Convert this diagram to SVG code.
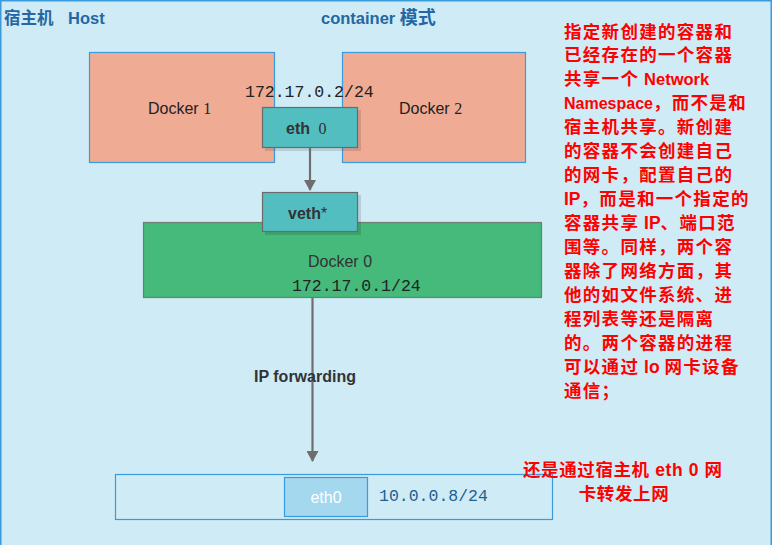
<svg xmlns="http://www.w3.org/2000/svg" width="772" height="545" viewBox="0 0 772 545">
<style>
.sans{font-family:"Liberation Sans",Arial,sans-serif}
.mono{font-family:"Liberation Mono","Courier New",monospace}
.cjk{font-family:"Liberation Sans","Noto Sans CJK SC",sans-serif}
.title{font-size:16.5px;font-weight:bold;fill:#2467a3}
.note{font-size:17.5px;font-weight:bold;fill:#ff0000}
.cj{letter-spacing:1.3px}
.lat{font-size:16.5px}
.dock{fill:#f0ab94;stroke:#3a9bdc;stroke-width:1.2}
.eth{fill:#52bec0;stroke:#6b6b6b;stroke-width:1.2}
.conn{stroke:#6e6e6e;stroke-width:2.2;fill:none}
</style>
<defs>
<marker id="arr" markerWidth="12" markerHeight="12" refX="10" refY="6" orient="auto" markerUnits="userSpaceOnUse">
<path d="M0,0 L11,6 L0,12 Z" fill="#6e6e6e"/>
</marker>
</defs>
<rect x="0" y="0" width="772" height="545" fill="#cfebf6"/>
<path d="M0.75,545 V0.75 H771.25 V545" fill="none" stroke="#3a9bdc" stroke-width="1.5"/>

<g id="title">
<text x="4" y="24" class="cjk title" font-size="17.5" font-weight="normal">宿主机</text>
<text x="68" y="24" class="sans title">Host</text>
<text x="321" y="24" class="cjk title">container <tspan font-size="18">模式</tspan></text>
</g>

<g id="docker1">
<rect x="89.5" y="52.5" width="185" height="110" class="dock"/>
<text x="148" y="114" class="sans" font-size="16" fill="#222">Docker <tspan font-family="Liberation Serif,serif">1</tspan></text>
</g>
<g id="docker2">
<rect x="342.5" y="52.5" width="183" height="110" class="dock"/>
<text x="399" y="114" class="sans" font-size="16" fill="#222">Docker <tspan font-family="Liberation Serif,serif">2</tspan></text>
</g>

<text x="245" y="97" class="mono" font-size="16.5" fill="#222">172.17.0.2/24</text>

<g id="eth0-top">
<rect x="265" y="110" width="96" height="41" fill="#000" opacity="0.12"/>
<rect x="262.5" y="107.5" width="95" height="40" class="eth"/>
<text x="286" y="134" class="sans" font-size="16" font-weight="bold" fill="#333">eth <tspan font-family="Liberation Serif,serif" font-weight="normal" dx="4">0</tspan></text>
</g>

<g id="docker0">
<rect x="143.5" y="222.5" width="398" height="75" fill="#45ba7a" stroke="#6b7f72" stroke-width="1.2"/>
<text x="308" y="267" class="sans" font-size="16" fill="#333">Docker 0</text>
<text x="292" y="291" class="mono" font-size="16.5" fill="#222">172.17.0.1/24</text>
</g>

<g id="veth">
<rect x="265" y="195" width="96" height="40" fill="#000" opacity="0.12"/>
<rect x="262.5" y="192.5" width="95" height="39" class="eth"/>
<text x="288" y="219" class="sans" font-size="16" font-weight="bold" fill="#333">veth<tspan font-weight="normal">*</tspan></text>
</g>

<g id="host-eth">
<rect x="115.5" y="474.5" width="437" height="45" fill="none" stroke="#3a9bdc" stroke-width="1.2"/>
<rect x="284.5" y="477.5" width="83" height="39" fill="#a3d8ef" stroke="#3a9bdc" stroke-width="1.2"/>
<text x="326" y="503" class="sans" font-size="16" fill="#fff" text-anchor="middle">eth0</text>
<text x="379" y="501" class="mono" font-size="16.5" fill="#1f5f8f">10.0.0.8/24</text>
</g>

<g id="connectors">
<line x1="310" y1="148" x2="310" y2="190" class="conn" marker-end="url(#arr)"/>
<line x1="312.5" y1="298" x2="312.5" y2="461" class="conn" marker-end="url(#arr)"/>
</g>

<text x="254" y="382" class="sans" font-size="16" font-weight="bold" fill="#333">IP forwarding</text>

<g id="note">
<text x="564" y="38" class="cjk note cj">指定新创建的容器和</text>
<text x="564" y="61" class="cjk note cj">已经存在的一个容器</text>
<text x="564" y="85" class="cjk note"><tspan class="cj">共享一个</tspan> <tspan class="lat">Network</tspan></text>
<text x="564" y="109" class="cjk note"><tspan font-size="16">Namespace</tspan><tspan class="cj">，而不是和</tspan></text>
<text x="564" y="133" class="cjk note cj">宿主机共享。新创建</text>
<text x="564" y="157" class="cjk note cj">的容器不会创建自己</text>
<text x="564" y="181" class="cjk note cj">的网卡，配置自己的</text>
<text x="564" y="205" class="cjk note">IP<tspan class="cj">，而是和一个指定的</tspan></text>
<text x="564" y="229" class="cjk note"><tspan class="cj">容器共享</tspan> IP<tspan class="cj">、端口范</tspan></text>
<text x="564" y="253" class="cjk note cj">围等。同样，两个容</text>
<text x="564" y="277" class="cjk note cj">器除了网络方面，其</text>
<text x="564" y="301" class="cjk note cj">他的如文件系统、进</text>
<text x="564" y="325" class="cjk note cj">程列表等还是隔离</text>
<text x="564" y="349" class="cjk note cj">的。两个容器的进程</text>
<text x="564" y="373" class="cjk note"><tspan class="cj">可以通过</tspan> lo <tspan class="cj">网卡设备</tspan></text>
<text x="564" y="397" class="cjk note cj">通信；</text>
</g>

<g id="note2">
<text x="523" y="476" class="cjk note" font-size="16.5" letter-spacing="0.6">还是通过宿主机 eth 0 网</text>
<text x="624" y="500" class="cjk note" font-size="16.5" letter-spacing="0.6" text-anchor="middle">卡转发上网</text>
</g>
</svg>
